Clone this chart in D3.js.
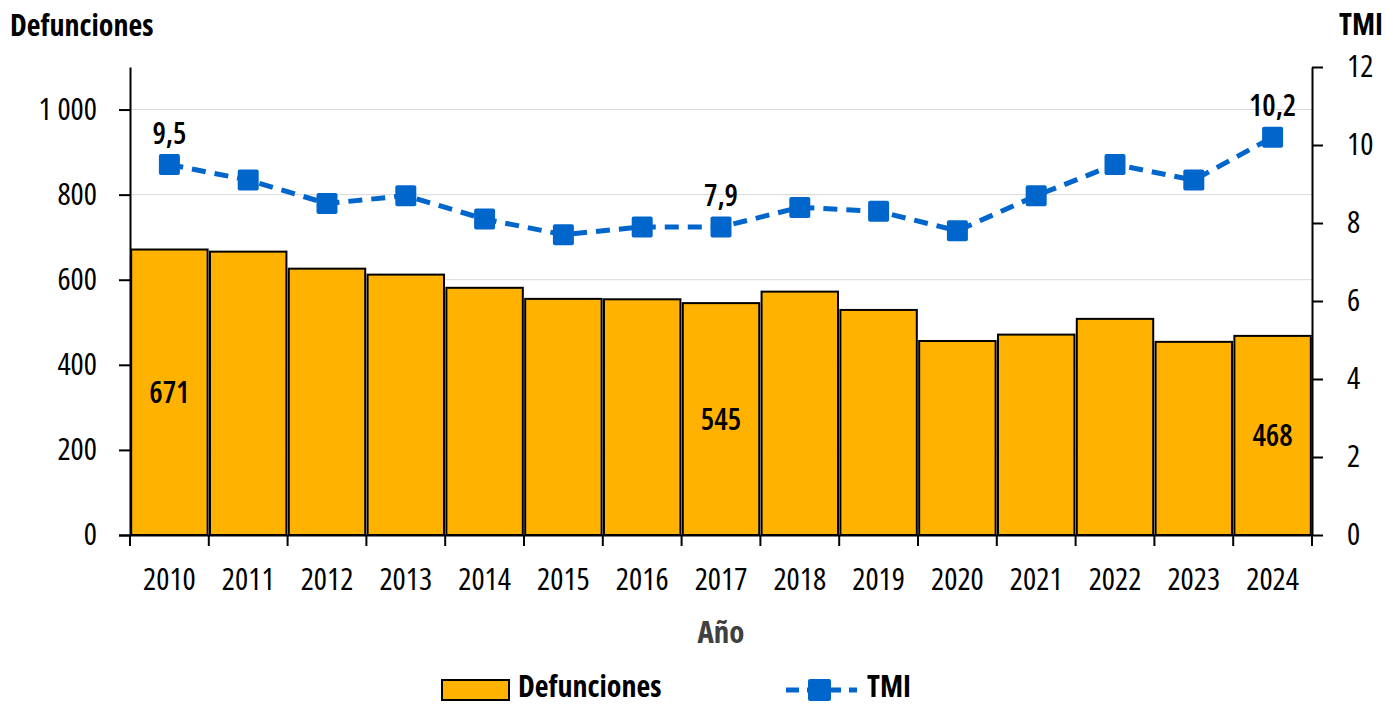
<!DOCTYPE html>
<html>
<head>
<meta charset="utf-8">
<script src="https://cdn.jsdelivr.net/npm/d3@7"></script>
<style>
  body { margin: 0; background: #fff; }
  svg text { font-family: "Open Sans", "Noto Sans", sans-serif; font-stretch: 75%; fill: #000; }
</style>
</head>
<body>
<div id="chart"></div>
<script>
const years = ["2010", "2011", "2012", "2013", "2014", "2015", "2016", "2017", "2018", "2019", "2020", "2021", "2022", "2023", "2024"];
const defunciones = [671, 666, 626, 612, 581, 555, 554, 545, 572, 529, 456, 471, 508, 454, 468];
const tmi = [9.5, 9.1, 8.5, 8.7, 8.1, 7.7, 7.9, 7.9, 8.4, 8.3, 7.8, 8.7, 9.5, 9.1, 10.2];
const leftTicks = [0, 200, 400, 600, 800, 1000];
const rightTicks = [0, 2, 4, 6, 8, 10, 12];
const barLabels = ["2010", "2017", "2024"];
const lineLabels = ["2010", "2017", "2024"];

const W = 1385, H = 706;
const m = { left: 130, right: 73, top: 67, bottom: 171 };
const blue = "#0066cc", gold = "#ffb300";

const svg = d3.select("#chart").append("svg")
	.attr("width", W)
	.attr("height", H);

const x = d3.scaleBand().domain(years).range([m.left, W - m.right]).paddingInner(0.03).paddingOuter(0.015);
const yL = d3.scaleLinear().domain([0, 1100]).range([H - m.bottom, m.top]);
const yR = d3.scaleLinear().domain([0, 12]).range([H - m.bottom, m.top]);

const fmt = d => d3.format(",")(d).replace(",", " ");
const fmtDec = d => d3.format(".1f")(d).replace(".", ",");

// líneas de cuadrícula
svg.append("g")
	.selectAll("line")
	.data(leftTicks.slice(1))
	.enter().append("line")
	.attr("x1", m.left).attr("x2", W - m.right)
	.attr("y1", d => yL(d)).attr("y2", d => yL(d))
	.attr("stroke", "#d9d9d9").attr("stroke-width", 1);

// barras
svg.append("g")
	.selectAll("rect")
	.data(years)
	.enter().append("rect")
	.attr("x", d => x(d))
	.attr("width", x.bandwidth())
	.attr("y", (d, i) => yL(defunciones[i]))
	.attr("height", (d, i) => yL(0) - yL(defunciones[i]))
	.attr("fill", gold)
	.attr("stroke", "#000")
	.attr("stroke-width", 2);

// ejes
const tickFont = g => g.selectAll("text").style("font-size", "31px").style("font-weight", 500);

const axL = svg.append("g")
	.attr("transform", `translate(${m.left},0)`)
	.call(d3.axisLeft(yL).tickValues(leftTicks).tickFormat(fmt).tickSize(11).tickPadding(22).tickSizeOuter(0))
	.call(tickFont);

const axR = svg.append("g")
	.attr("transform", `translate(${W - m.right},0)`)
	.call(d3.axisRight(yR).tickValues(rightTicks).tickSize(11).tickPadding(24).tickSizeOuter(0))
	.call(tickFont);

const axB = svg.append("g")
	.attr("transform", `translate(0,${H - m.bottom})`)
	.call(d3.axisBottom(x).tickSize(0).tickPadding(33))
	.call(tickFont);
axB.select(".domain").attr("stroke-width", 2).attr("d", `M${m.left - 11},0.5H${W - m.right}`);

// marcas en los bordes de cada banda
svg.append("g")
	.selectAll("line")
	.data(years.concat(["end"]))
	.enter().append("line")
	.attr("x1", (d, i) => m.left + i * (W - m.left - m.right) / years.length)
	.attr("x2", (d, i) => m.left + i * (W - m.left - m.right) / years.length)
	.attr("y1", yL(0)).attr("y2", yL(0) + 11)
	.attr("stroke", "#000").attr("stroke-width", 2);

[axL, axR].forEach(a => {
	a.select(".domain").attr("stroke-width", 2);
	a.selectAll(".tick line").attr("stroke-width", 2);
});

// línea TMI
const cx = d => x(d) + x.bandwidth() / 2;
const line = d3.line()
	.x(d => cx(d))
	.y((d, i) => yR(tmi[i]));

svg.append("path")
	.datum(years)
	.attr("d", line)
	.attr("fill", "none")
	.attr("stroke", blue)
	.attr("stroke-width", 5)
	.attr("stroke-dasharray", "14,9");

svg.append("g")
	.selectAll("rect")
	.data(years)
	.enter().append("rect")
	.attr("x", d => cx(d) - 10.5)
	.attr("y", (d, i) => yR(tmi[i]) - 10.5)
	.attr("width", 21).attr("height", 21)
	.attr("rx", 2)
	.attr("fill", blue);

// etiquetas de datos
svg.append("g")
	.selectAll("text")
	.data(barLabels)
	.enter().append("text")
	.attr("x", d => cx(d))
	.attr("y", d => (yL(defunciones[years.indexOf(d)]) + yL(0)) / 2 + 11)
	.attr("text-anchor", "middle")
	.style("font-size", "30px")
	.style("font-weight", 600)
	.text(d => defunciones[years.indexOf(d)]);

svg.append("g")
	.selectAll("text")
	.data(lineLabels)
	.enter().append("text")
	.attr("x", d => cx(d))
	.attr("y", d => yR(tmi[years.indexOf(d)]) - 21)
	.attr("text-anchor", "middle")
	.style("font-size", "30px")
	.style("font-weight", 600)
	.text(d => fmtDec(tmi[years.indexOf(d)]));

// títulos
svg.append("text").attr("x", 10).attr("y", 36)
	.style("font-size", "30px").style("font-weight", "bold").text("Defunciones");
svg.append("text").attr("x", W - 2).attr("y", 35).attr("text-anchor", "end")
	.style("font-size", "30px").style("font-weight", "bold").text("TMI");
svg.append("text").attr("x", (m.left + W - m.right) / 2).attr("y", 643).attr("text-anchor", "middle")
	.style("font-size", "31px").style("font-weight", "bold").style("fill", "#404040").text("Año");

// leyenda
const leg = svg.append("g");
leg.append("rect").attr("x", 442).attr("y", 680).attr("width", 67).attr("height", 20)
	.attr("fill", gold).attr("stroke", "#000").attr("stroke-width", 2);
leg.append("text").attr("x", 518).attr("y", 697)
	.style("font-size", "30px").style("font-weight", "bold").text("Defunciones");
leg.append("line").attr("x1", 786).attr("x2", 857).attr("y1", 690).attr("y2", 690)
	.attr("stroke", blue).attr("stroke-width", 5).attr("stroke-dasharray", "13,8");
leg.append("rect").attr("x", 808).attr("y", 679).attr("width", 23).attr("height", 22).attr("rx", 2)
	.attr("fill", blue);
leg.append("text").attr("x", 867).attr("y", 697)
	.style("font-size", "30px").style("font-weight", "bold").text("TMI");
</script>
</body>
</html>
